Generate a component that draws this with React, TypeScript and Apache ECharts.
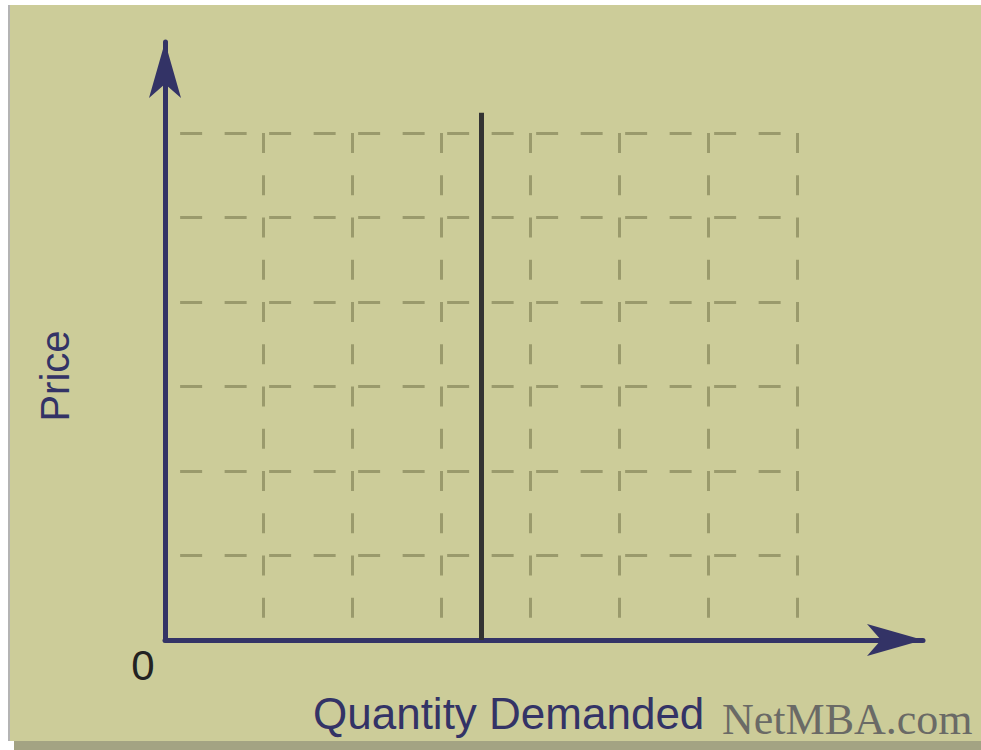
import React, { useEffect, useRef } from "react";
import * as echarts from "echarts";

// Grid levels (in chart units)
const priceLevels = [1, 2, 3, 4, 5, 6];
const quantityLevels = [1, 2, 3, 4, 5, 6, 7];
const gridStartX = 0.07;
const gridEndX = 7;
const gridTopY = 6;
// Perfectly inelastic demand: vertical line
const demandQuantity = [3.45, 3.45];
const demandPrice = [6.24, 0];

const AXIS_COLOR = "#333366";
const GRID_COLOR = "#9a9a6c";
const BG = "#CCCC99";

export default function App() {
  const ref = useRef<HTMLDivElement>(null);
  useEffect(() => {
    if (!ref.current) return;
    const chart = echarts.init(ref.current, undefined, { renderer: "svg" });
    const hLines = priceLevels.map((p) => ({ coords: [[gridStartX, p], [gridEndX, p]] }));
    const vLines = quantityLevels.map((q) => ({ coords: [[q, gridTopY], [q, 0]] }));
    const axisCommon = {
      type: "value" as const,
      axisLine: {
        show: true,
        onZero: false,
        symbol: ["none", "arrow"],
        symbolSize: [24, 56],
        lineStyle: { color: AXIS_COLOR, width: 5 },
      },
      axisTick: { show: false },
      axisLabel: { show: false },
      splitLine: { show: false },
    };
    chart.setOption({
      animation: false,
      backgroundColor: "#ffffff",
      grid: { left: 165, top: 42, width: 758, height: 598 },
      xAxis: { ...axisCommon, min: -0.1, max: 8.417 },
      yAxis: { ...axisCommon, min: 0, max: 7.077 },
      graphic: [
        { type: "rect", z: -10, shape: { x: 8, y: 5, width: 2, height: 736 }, style: { fill: "#b4b4b4" } },
        { type: "rect", z: -10, shape: { x: 10, y: 5, width: 971, height: 736 }, style: { fill: BG } },
        { type: "rect", z: -10, shape: { x: 14, y: 741, width: 967, height: 9 }, style: { fill: "#a3a383" } },
        {
          type: "text", z: 100, x: 55, y: 376, rotation: Math.PI / 2,
          style: { text: "Price", fill: AXIS_COLOR, font: "40px 'Liberation Sans', Arial, sans-serif", textAlign: "center", textVerticalAlign: "middle" },
        },
        {
          type: "text", z: 100, x: 313, y: 713,
          style: { text: "Quantity Demanded", fill: AXIS_COLOR, font: "44px 'Liberation Sans', Arial, sans-serif", textAlign: "left", textVerticalAlign: "middle" },
        },
        {
          type: "text", z: 100, x: 143, y: 665,
          style: { text: "0", fill: "#222222", font: "42px 'Liberation Sans', Arial, sans-serif", textAlign: "center", textVerticalAlign: "middle" },
        },
        {
          type: "text", z: 100, x: 722, y: 719,
          style: { text: "NetMBA.com", fill: "#6a6a66", font: "44px 'Liberation Serif', 'Times New Roman', serif", textAlign: "left", textVerticalAlign: "middle" },
        },
      ],
      series: [
        {
          type: "lines", coordinateSystem: "cartesian2d", silent: true, z: 1,
          lineStyle: { color: GRID_COLOR, width: 3, type: [22, 22.5], opacity: 1 },
          data: hLines,
        },
        {
          type: "lines", coordinateSystem: "cartesian2d", silent: true, z: 1,
          lineStyle: { color: GRID_COLOR, width: 3, type: [20, 22.25], opacity: 1 },
          data: vLines,
        },
        {
          type: "lines", coordinateSystem: "cartesian2d", silent: true, z: 3,
          lineStyle: { color: "#333333", width: 5, opacity: 1 },
          data: [{ coords: [[demandQuantity[0], demandPrice[0]], [demandQuantity[1], demandPrice[1]]] }],
        },
      ],
    });
    return () => chart.dispose();
  }, []);
  return <div ref={ref} style={{ position: "fixed", left: 0, top: 0, width: 981, height: 750 }} />;
}
